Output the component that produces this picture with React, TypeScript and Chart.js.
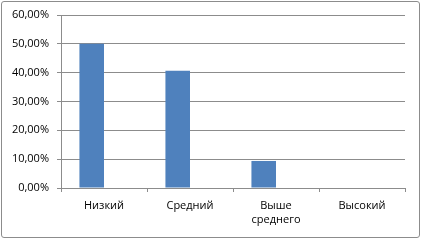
import React, { useEffect, useRef } from "react";
import { Chart, registerables } from "chart.js";

Chart.register(...registerables);

const categories: (string | string[])[] = ["Низкий", "Средний", ["Выше", "среднего"], "Высокий"];
const seriesValues: number[] = [50, 40.63, 9.38, 0];
const emptySeries: (number | null)[] = [null, null, null, null];
const yTicks: number[] = [0, 10, 20, 30, 40, 50, 60];

const FONT = { family: "'Open Sans', sans-serif", size: 11 };
const XFONT = { family: "'Open Sans', sans-serif", size: 11, lineHeight: 1.35 };
const GRID = "#8c8c8c";

export default function App() {
  const ref = useRef<HTMLCanvasElement | null>(null);

  useEffect(() => {
    if (!ref.current) return;
    const chart = new Chart(ref.current, {
      type: "bar",
      data: {
        labels: categories,
        datasets: [
          {
            label: "Ряд1",
            data: seriesValues,
            backgroundColor: "#4f81bd",
            borderWidth: 0,
            categoryPercentage: 2 / 3.5,
            barPercentage: 1,
          },
          {
            label: "Ряд2",
            data: emptySeries,
            backgroundColor: "#c0504d",
            borderWidth: 0,
            categoryPercentage: 2 / 3.5,
            barPercentage: 1,
          },
        ],
      },
      options: {
        responsive: false,
        animation: false,
        layout: { padding: { top: 15, right: 17, left: 0, bottom: 0 } },
        plugins: { legend: { display: false }, tooltip: { enabled: false } },
        scales: {
          x: {
            grid: {
              drawOnChartArea: false,
              drawTicks: true,
              tickLength: 4,
              color: GRID,
              offset: true,
            },
            border: { display: true, color: GRID },
            ticks: {
              color: "#000",
              font: XFONT,
              padding: 6,
              maxRotation: 0,
              autoSkip: false,
            },
            afterFit: (s: any) => {
              s.height = 52;
            },
          },
          y: {
            min: 0,
            max: 60,
            afterBuildTicks: (s: any) => {
              s.ticks = yTicks.map((v) => ({ value: v }));
            },
            grid: { color: GRID, tickLength: 4, drawTicks: true },
            border: { display: true, color: GRID },
            ticks: {
              color: "#000",
              font: FONT,
              padding: 8,
              callback: (v: any) => Number(v).toFixed(2).replace(".", ",") + "%",
            },
            afterFit: (s: any) => {
              s.width = 61;
            },
          },
        },
      },
    });
    return () => chart.destroy();
  }, []);

  return (
    <div style={{ position: "fixed", left: 0, top: 0, width: 422, height: 240, background: "#fff" }}>
      <canvas ref={ref} width={422} height={240} style={{ position: "absolute", left: 0, top: 0 }} />
      <div
        style={{
          position: "absolute",
          left: 1,
          top: 1,
          width: 419,
          height: 237,
          boxSizing: "border-box",
          border: "1px solid #8c8c8c",
          borderRadius: 3,
          pointerEvents: "none",
        }}
      />
    </div>
  );
}
